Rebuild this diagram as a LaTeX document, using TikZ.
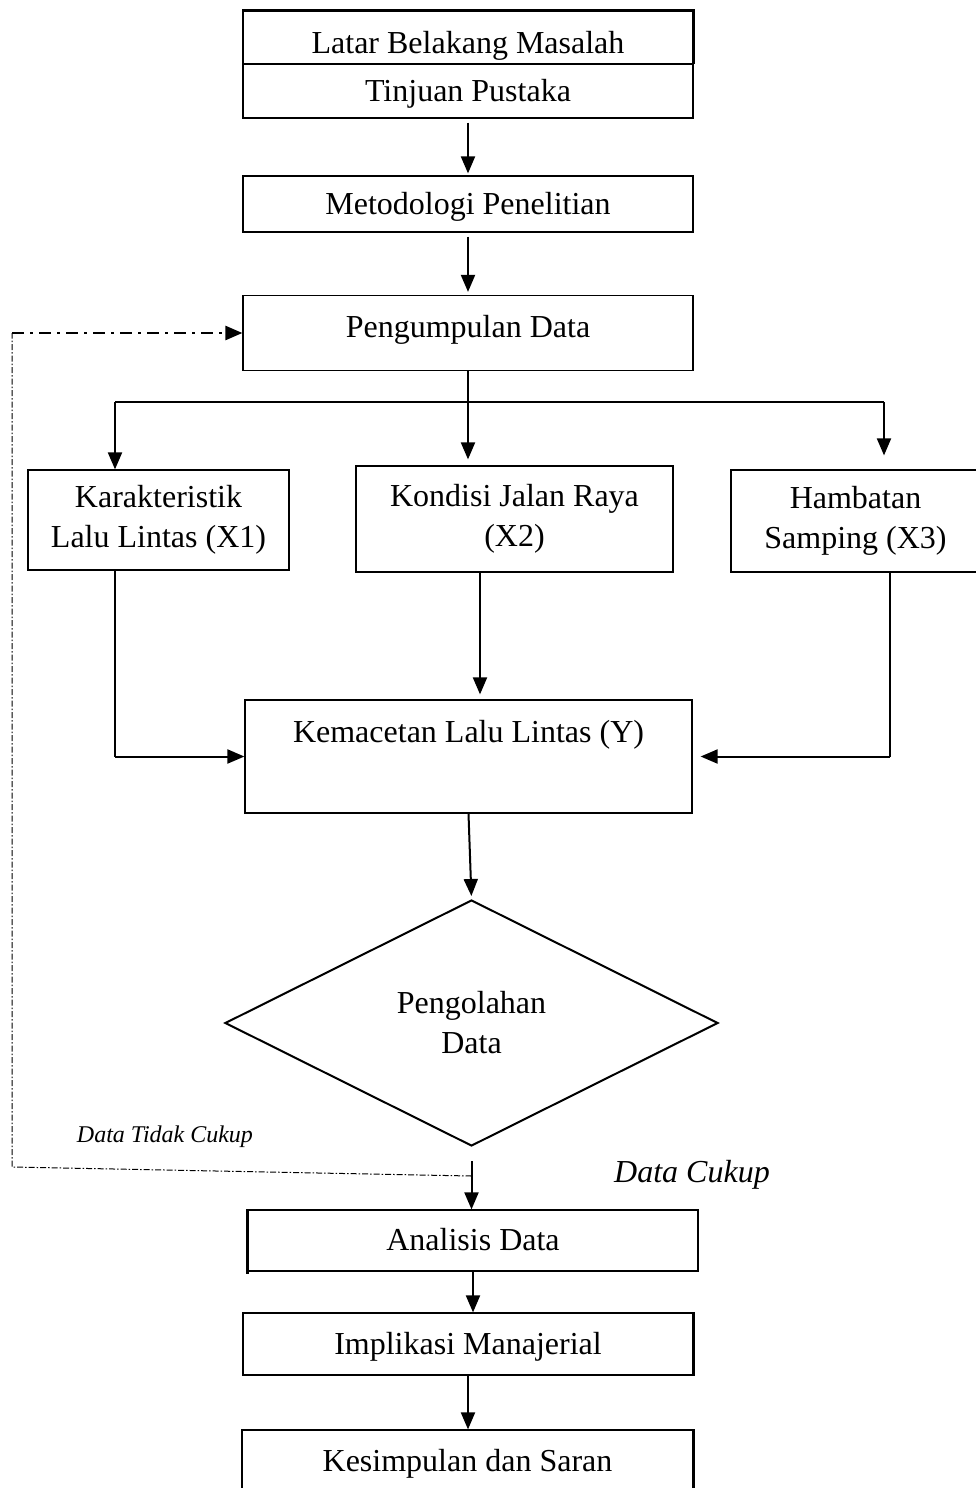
\documentclass[tikz,border=0pt]{standalone}
\usepackage{fontspec}
\setmainfont{Liberation Serif}
\usetikzlibrary{arrows.meta,shapes.geometric}
\begin{document}
\begin{tikzpicture}[x=1pt,y=-1pt,
  font=\fontsize{32}{40}\selectfont,
  bx/.style={draw,line width=1.2pt,rectangle,inner sep=0pt,align=center},
  onel/.style={text height=28pt,text depth=8pt},
  arr/.style={line width=2pt,-{Triangle[length=17pt,width=14pt]}},
  ln/.style={line width=1.2pt},
  lk/.style={line width=2.6pt},
  loopthin/.style={line width=1pt,dash pattern=on 6pt off 2pt on 1.5pt off 2pt},
  loopthick/.style={line width=2.5pt,dash pattern=on 12pt off 6pt on 3pt off 6pt},
]
\useasboundingbox (0,0) rectangle (976,1488);

% top boxes
\node[rectangle,inner sep=0pt,minimum width=450pt,minimum height=53pt,text height=40pt,text depth=8pt] (lat) at (468,37.5) {Latar Belakang Masalah};
\draw[lk] (lat.south west) -- (lat.north west) -- (lat.north east) -- (lat.south east);
\node[bx,onel,minimum width=450pt,minimum height=54pt] (tin) at (468,91) {Tinjuan Pustaka};
\node[bx,onel,minimum width=450pt,minimum height=56pt] (met) at (468,204) {Metodologi Penelitian};
\node[bx,text height=22pt,text depth=13pt,minimum width=450pt,minimum height=75pt] (pen) at (468,333) {Pengumpulan Data};

% variables
\node[bx,minimum width=261pt,minimum height=100pt] (kar) at (158.5,520) {Karakteristik\\Lalu Lintas (X1)};
\node[bx,minimum width=317pt,minimum height=106pt] (kon) at (514.5,519) {Kondisi Jalan Raya\\(X2)};
\node[bx,minimum width=249pt,minimum height=102pt] (ham) at (855.5,521) {Hambatan\\Samping (X3)};

\node[bx,text height=22pt,text depth=50pt,minimum width=447pt,minimum height=113pt] (kem) at (468.5,756.5) {Kemacetan Lalu Lintas (Y)};

\node[draw,line width=2pt,diamond,inner sep=0pt,minimum width=493pt,minimum height=246pt,align=center] (dia) at (471.5,1023) {Pengolahan\\Data};

\node[font=\fontsize{24}{29}\selectfont\itshape] (dtc) at (165,1137) {Data Tidak Cukup};
\node[font=\fontsize{32}{40}\selectfont\itshape] (dc) at (692,1175) {Data Cukup};

\node[bx,onel,minimum width=450pt,minimum height=61pt] (ana) at (473,1240.5) {Analisis Data};
\draw[lk] (ana.north west) -- ([yshift=-2pt]ana.south west);
\node[bx,onel,minimum width=450pt,minimum height=62pt] (imp) at (468,1344) {Implikasi Manajerial};
\draw[lk] (imp.north east) -- (imp.south east);
\node[bx,onel,minimum width=451pt,minimum height=62pt] (kes) at (467.5,1461) {Kesimpulan dan Saran};
\draw[lk] (kes.north east) -- (kes.south east);

% main connectors
\draw[arr,shorten <=4pt,shorten >=2pt] (tin.south) -- (met.north);
\draw[arr,shorten <=4pt,shorten >=3pt] (met.south) -- (pen.north);
\draw[arr,shorten >=6pt] (pen.south) -- (pen.south |- kon.north);

\coordinate (bL) at (115,402);
\coordinate (bR) at (884,402);
\draw[ln] (bL) -- (bR);
\draw[arr] (bL) -- (bL |- kar.north);
\draw[arr,shorten >=14pt] (bR) -- (bR |- ham.north);

\draw[ln] (kar.south -| bL) -- (bL |- kem.west);
\draw[arr] (bL |- kem.west) -- (kem.west);

\coordinate (xk) at (480,0);
\draw[arr,shorten >=5pt] (kon.south -| xk) -- (kem.north -| xk);

\coordinate (xh) at (890,0);
\draw[ln] (ham.south -| xh) -- (xh |- kem.east);
\draw[arr,shorten >=8pt] (xh |- kem.east) -- (kem.east);

\draw[arr,shorten >=3pt] (kem.south) -- (dia.north);
\draw[arr,shorten <=14pt] (dia.south) -- (dia.south |- ana.north);
\draw[arr] (ana.south) -- (ana.south |- imp.north);
\draw[arr] (imp.south) -- (imp.south |- kes.north);

% feedback loop
\coordinate (dj) at (471.5,1176);
\coordinate (c1) at (12,1167);
\coordinate (c2) at (c1 |- pen.west);
\draw[loopthin] (dj) -- (c1) -- (c2);
\draw[arr,loopthick] (c2) -- (pen.west);
\end{tikzpicture}
\end{document}
